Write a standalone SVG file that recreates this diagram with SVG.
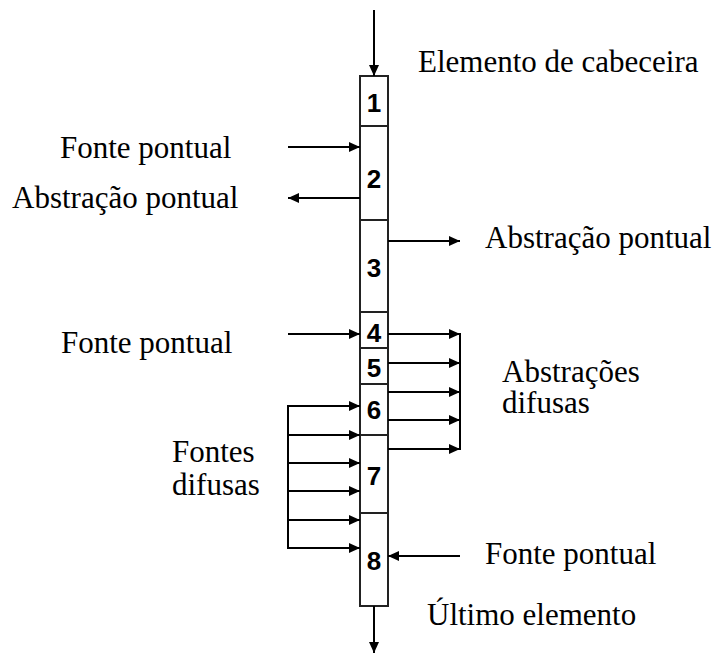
<svg xmlns="http://www.w3.org/2000/svg" width="720" height="654" viewBox="0 0 720 654">
<style>
.lbl{font-family:'Liberation Serif','Times New Roman','DejaVu Serif',serif;font-size:31px;fill:#000}
.num{font-family:'Liberation Sans',Arial,sans-serif;font-size:26px;font-weight:bold;fill:#000;text-anchor:middle}
.cell{fill:#fff;stroke:#222;stroke-width:2}
.ln{stroke:#000;stroke-width:2;fill:none}
.ar{stroke:#000;stroke-width:2;fill:none;marker-end:url(#ah)}
</style>
<defs>
<marker id="ah" markerUnits="userSpaceOnUse" markerWidth="11" markerHeight="10" refX="11" refY="5" orient="auto">
<path d="M0,0 L11,5 L0,10 Z" fill="#000"/>
</marker>
</defs>
<rect width="720" height="654" fill="#fff"/>
<g id="cells">
<g id="e1"><rect class="cell" x="360" y="76" width="28" height="50"/><text class="num" x="374" y="112">1</text></g>
<g id="e2"><rect class="cell" x="360" y="126" width="28" height="94"/><text class="num" x="374" y="188">2</text></g>
<g id="e3"><rect class="cell" x="360" y="220" width="28" height="92"/><text class="num" x="374" y="277">3</text></g>
<g id="e4"><rect class="cell" x="360" y="312" width="28" height="36"/><text class="num" x="374" y="342">4</text></g>
<g id="e5"><rect class="cell" x="360" y="348" width="28" height="36"/><text class="num" x="374" y="377">5</text></g>
<g id="e6"><rect class="cell" x="360" y="384" width="28" height="51"/><text class="num" x="374" y="419">6</text></g>
<g id="e7"><rect class="cell" x="360" y="435" width="28" height="78"/><text class="num" x="374" y="485">7</text></g>
<g id="e8"><rect class="cell" x="360" y="513" width="28" height="93"/><text class="num" x="374" y="570">8</text></g>
</g>
<g id="connectors">
<line class="ar" x1="374" y1="10" x2="374" y2="76"/>
<line class="ar" x1="374" y1="606" x2="374" y2="653"/>
<line class="ar" x1="288" y1="147" x2="360" y2="147"/>
<line class="ar" x1="360" y1="198" x2="288" y2="198"/>
<line class="ar" x1="388" y1="241" x2="460" y2="241"/>
<line class="ar" x1="288" y1="334" x2="360" y2="334"/>
<line class="ar" x1="388" y1="334" x2="460" y2="334"/>
<line class="ar" x1="388" y1="363" x2="460" y2="363"/>
<line class="ar" x1="388" y1="392" x2="460" y2="392"/>
<line class="ar" x1="388" y1="420" x2="460" y2="420"/>
<line class="ar" x1="388" y1="449" x2="460" y2="449"/>
<line class="ln" x1="460" y1="333" x2="460" y2="450"/>
<line class="ln" x1="288" y1="405" x2="288" y2="549"/>
<line class="ar" x1="287" y1="406" x2="360" y2="406"/>
<line class="ar" x1="288" y1="435" x2="360" y2="435"/>
<line class="ar" x1="288" y1="463" x2="360" y2="463"/>
<line class="ar" x1="288" y1="491" x2="360" y2="491"/>
<line class="ar" x1="288" y1="520" x2="360" y2="520"/>
<line class="ar" x1="287" y1="548" x2="360" y2="548"/>
<line class="ar" x1="460" y1="556" x2="388" y2="556"/>
</g>
<g id="labels">
<text class="lbl" x="418" y="72">Elemento de cabeceira</text>
<text class="lbl" x="60" y="158">Fonte pontual</text>
<text class="lbl" x="12" y="208">Abstração pontual</text>
<text class="lbl" x="485" y="248">Abstração pontual</text>
<text class="lbl" x="61" y="353">Fonte pontual</text>
<text class="lbl" x="502" y="382">Abstrações</text>
<text class="lbl" x="502" y="413">difusas</text>
<text class="lbl" x="172" y="462">Fontes</text>
<text class="lbl" x="172" y="495">difusas</text>
<text class="lbl" x="485" y="564">Fonte pontual</text>
<text class="lbl" x="427" y="625">Último elemento</text>
</g>
</svg>
